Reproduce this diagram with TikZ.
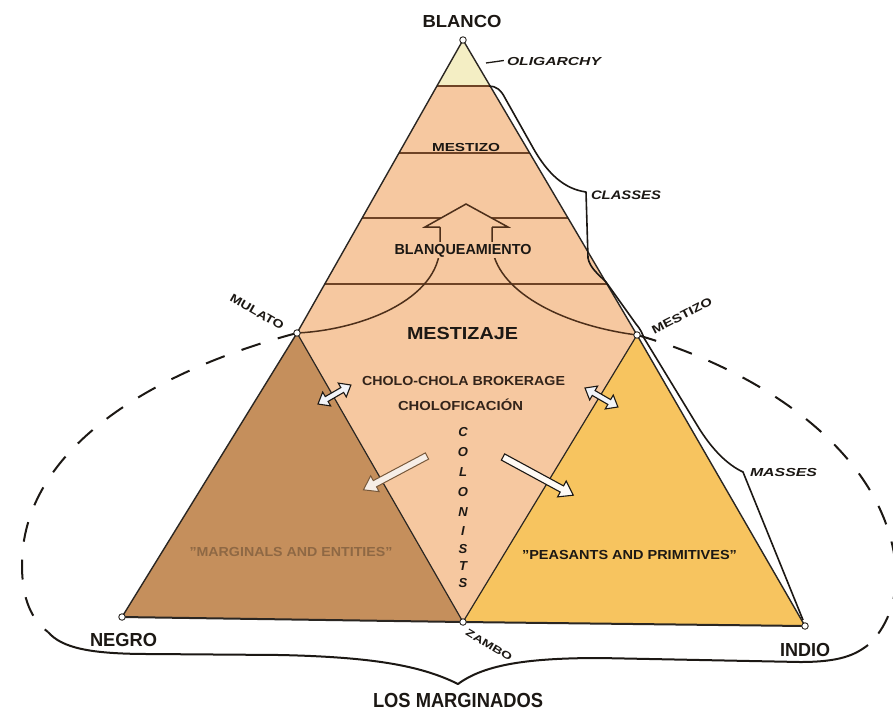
\documentclass[tikz,border=0pt]{standalone}
\usepackage{fontspec}
\setmainfont{Liberation Sans}
\usepackage{graphicx}
\definecolor{peach}{HTML}{F6C8A0}
\definecolor{olig}{HTML}{F4EEC4}
\definecolor{brownL}{HTML}{C58F5C}
\definecolor{yel}{HTML}{F7C45F}
\definecolor{bandc}{HTML}{6E4325}
\definecolor{edgec}{HTML}{2A2622}
\definecolor{ink}{HTML}{1C1814}
\definecolor{ink2}{HTML}{33241A}
\definecolor{margc}{HTML}{8E6844}
\definecolor{arrfill}{HTML}{F2F4F8}
\newsavebox\rsBox
\newsavebox\rsCapBox
\newlength\rsW
\newlength\rsH
\newcommand\rsFit[3]{\sbox\rsBox{#3}\sbox\rsCapBox{H}\setlength\rsW{\wd\rsBox}\setlength\rsH{\ht\rsCapBox}\pgfmathsetmacro\rsSX{#1/\rsW}\pgfmathsetmacro\rsSY{#2/\rsH}\scalebox{\rsSX}[\rsSY]{\usebox\rsBox}}
\newcommand\rsSingle[4]{\begin{scope}[shift={#1},rotate=#2]
 \draw[#4] (0,-3.5) -- ({#3-13},-3.5) -- ({#3-13},-9) -- (#3,0) -- ({#3-13},9) -- ({#3-13},3.5) -- (0,3.5) -- cycle;
\end{scope}}
\newcommand\rsDouble[3]{\begin{scope}[shift={#1},rotate=#2]
 \draw[hollow] (0,0) -- (10,-8) -- (10,-2.8) -- ({#3-10},-2.8) -- ({#3-10},-8) -- (#3,0) -- ({#3-10},8) -- ({#3-10},2.8) -- (10,2.8) -- (10,8) -- cycle;
\end{scope}}
\begin{document}
\begin{tikzpicture}[x=1pt,y=-1pt,
  vtx/.style={circle,draw=edgec,fill=white,line width=0.9pt,inner sep=0pt,minimum size=6.5pt},
  lbl/.style={inner sep=0pt,text=ink,font=\bfseries},
  ilbl/.style={inner sep=0pt,text=ink,font=\bfseries\itshape},
  edgeln/.style={draw=edgec,line width=1.4pt,line join=round},
  band/.style={draw=bandc,line width=2pt},
  brk/.style={draw=ink,line width=1.6pt,line join=round},
  dsh/.style={draw=ink,line width=2pt,dash pattern=on 20pt off 18pt},
  hollow/.style={draw=ink,line width=1.1pt,fill=arrfill,line join=miter},
  arrline/.style={draw=bandc!70!black,line width=1.5pt}]
\useasboundingbox (0,0) rectangle (893,710);
\fill[white] (0,0) rectangle (893,710);
\clip (0,0) rectangle (893,710);
% vertices
\coordinate (B) at (463,40);
\coordinate (Mu) at (297,333);
\coordinate (Me) at (637,335);
\coordinate (Ng) at (122,617);
\coordinate (Zb) at (463,622);
\coordinate (In) at (805,626);
% fills
\fill[peach] (B) -- (Mu) -- (Zb) -- (Me) -- cycle;
\fill[olig] (B) -- (436.9,86) -- (490.1,86) -- cycle;
\fill[brownL] (Mu) -- (Ng) -- (Zb) -- cycle;
\fill[yel] (Me) -- (Zb) -- (In) -- cycle;
% bands
\draw[band] (436.9,86) -- (490.1,86);
\draw[band] (399.0,153) -- (529.6,153);
\draw[band] (362.2,218) -- (568.0,218);
\draw[band] (324.8,284) -- (606.9,284);
% edges
\draw[edgeln] (B) -- (Mu) -- (Ng);
\draw[edgeln] (B) -- (Me) -- (In);
\draw[edgeln,line width=2pt] (Ng) -- (Zb) -- (In);
\draw[edgeln,line width=1.2pt] (Mu) -- (Zb) -- (Me);
% blanqueamiento arrow
\draw[arrline] (Mu) .. controls (360,330) and (440,300) .. (440,245) -- (440,227);
\draw[arrline] (492,227) -- (492,245) .. controls (495,290) and (560,325) .. (Me);
\draw[arrline,fill=peach,line join=miter] (440,227) -- (425,227) -- (466,204) -- (508,227) -- (492,227);
% brackets classes / masses
\draw[brk] (489,86) .. controls (496,86) and (501,90) .. (505,98) -- (532,146) .. controls (548,175) and (565,189) .. (586,192) -- (588,258) .. controls (590,268) and (598,274) .. (606,282) -- (636,324) .. controls (641,330) and (642,333) .. (644,338) -- (697,425) .. controls (712,450) and (728,465) .. (743,472) -- (803,620);
% dashed envelope and brace
\draw[dsh] (Mu) .. controls (150,372) and (22,450) .. (22,565) .. controls (22,600) and (32,620) .. (48,632);
\draw[dsh] (Me) .. controls (760,370) and (880,450) .. (895,560) .. controls (900,600) and (885,630) .. (868,645);
\draw[brk,line width=2pt] (48,632) .. controls (62,648) and (90,654) .. (150,654) -- (280,655) .. controls (370,657) and (420,665) .. (458,684) .. controls (485,664) and (530,658) .. (600,658) -- (800,662) .. controls (840,662) and (855,655) .. (868,645);
% small arrows
\rsDouble{(318,404)}{30}{38}
\rsDouble{(585,388)}{-30}{38}
\rsSingle{(427,456)}{208}{72}{draw=margc!80!ink,line width=1pt,fill=white!85!brownL}
\rsSingle{(503,457)}{-28.5}{80}{draw=ink,line width=1.1pt,fill=white!90!peach}
% vertex circles
\node[vtx] (blanco) at (B) {};
\node[vtx] (mulato) at (Mu) {};
\node[vtx] (mestizo) at (Me) {};
\node[vtx] (negro) at (Ng) {};
\node[vtx] (zambo) at (Zb) {};
\node[vtx] (indio) at (In) {};
% labels
\node[lbl,anchor=base] (tBlanco) at (462,27) {\rsFit{79}{12}{BLANCO}};
\node[ilbl,anchor=base] (tOlig) at (554,65) {\rsFit{94}{8}{OLIGARCHY}};
\coordinate (olA) at (486,63);
\draw[brk,line width=1.3pt] (olA) -- ([xshift=-3pt,yshift=4.5pt]tOlig.base west);
\node[lbl,anchor=base] (tMestA) at (466,151) {\rsFit{68}{8}{MESTIZO}};
\node[ilbl,anchor=base] (tClasses) at (626,199) {\rsFit{70}{8.5}{CLASSES}};
\node[lbl,anchor=base,fill=peach,inner sep=1.5pt] (tBlanq) at (463,254) {\rsFit{137}{10}{BLANQUEAMIENTO}};
\node[lbl,rotate=-30] (tMulato) at (257,312) {\rsFit{60}{8}{MULATO}};
\node[lbl,rotate=27] (tMestB) at (682,316) {\rsFit{66}{8}{MESTIZO}};
\node[lbl,anchor=base] (tMestizaje) at (462.5,339) {\rsFit{111}{12}{MESTIZAJE}};
\node[lbl,anchor=base,text=ink2] (tCholo) at (463.5,385.5) {\rsFit{203}{9}{CHOLO-CHOLA BROKERAGE}};
\node[lbl,anchor=base,text=ink2] (tCholof) at (460.5,410.5) {\rsFit{125}{9}{CHOLOFICACIÓN}};
\foreach \l/\yy [count=\i] in {C/432,O/452,L/472,O/492,N/512,I/531,S/549,T/566,S/583}
  \node[ilbl,font=\fontsize{13}{13}\selectfont\bfseries\itshape] (col\i) at (463,\yy) {\l};
\node[lbl,anchor=base,text=margc] (tMarg) at (291,556.5) {\rsFit{203}{9}{"MARGINALS AND ENTITIES"}};
\node[lbl,anchor=base] (tPeas) at (629.5,559.5) {\rsFit{215}{9}{"PEASANTS AND PRIMITIVES"}};
\node[ilbl,anchor=base] (tMasses) at (783.5,476) {\rsFit{67}{8}{MASSES}};
\node[lbl,anchor=base] (tNegro) at (123.5,646.5) {\rsFit{67}{13}{NEGRO}};
\node[lbl,rotate=-31] (tZambo) at (489,645) {\rsFit{52}{7}{ZAMBO}};
\node[lbl,anchor=base] (tIndio) at (805,656.5) {\rsFit{50}{13}{INDIO}};
\node[lbl,anchor=base] (tLos) at (458,707) {\rsFit{170}{14}{LOS MARGINADOS}};
\end{tikzpicture}
\end{document}
